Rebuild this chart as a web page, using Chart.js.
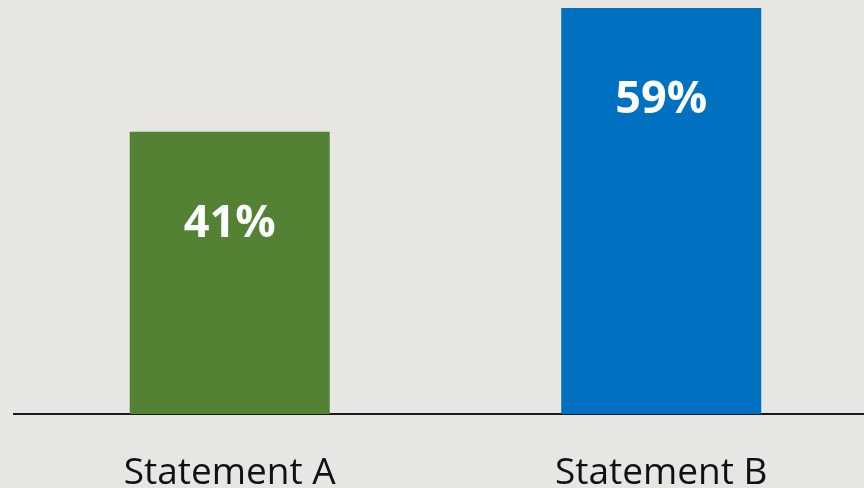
<!DOCTYPE html>
<html>
<head>
<meta charset="utf-8">
<script src="https://cdn.jsdelivr.net/npm/chart.js@4/dist/chart.umd.min.js"></script>
<style>
  html, body { margin: 0; padding: 0; background: #E8E6E2; overflow: hidden; }
  #wrap { width: 880px; height: 488px; }
</style>
</head>
<body>
<div id="wrap"><canvas id="chart"></canvas></div>
<script>
const categories = ['Statement A', 'Statement B'];
const values = [41, 59];
const barColors = ['#548235', '#0070C0'];

// draws the white % labels inside the bars
const valueLabels = {
  id: 'valueLabels',
  afterDatasetsDraw(chart) {
    const ctx = chart.ctx;
    const meta = chart.getDatasetMeta(0);
    ctx.save();
    ctx.fillStyle = '#ffffff';
    ctx.font = 'bold 45px "Open Sans"';
    ctx.textAlign = 'center';
    ctx.textBaseline = 'middle';
    meta.data.forEach((bar, i) => {
      ctx.fillText(values[i] + '%', bar.x, bar.y + 92);
    });
    ctx.restore();
  }
};

new Chart(document.getElementById('chart'), {
  type: 'bar',
  data: {
    labels: categories,
    datasets: [{
      data: values,
      backgroundColor: barColors,
      barPercentage: 0.4635,
      categoryPercentage: 1
    }]
  },
  options: {
    responsive: true,
    maintainAspectRatio: false,
    animation: false,
    layout: { padding: { top: 8, left: 14, right: 3, bottom: 0 } },
    plugins: { legend: { display: false }, tooltip: { enabled: false } },
    scales: {
      x: {
        grid: { display: false },
        border: { display: true, color: '#1a1a1a', width: 2 },
        ticks: {
          color: '#111111',
          font: { family: '"Open Sans"', size: 37 },
          padding: 29
        },
        afterFit: (scale) => { scale.height = 74; }
      },
      y: {
        display: false,
        min: 0,
        max: 59
      }
    }
  },
  plugins: [valueLabels]
});
</script>
</body>
</html>
